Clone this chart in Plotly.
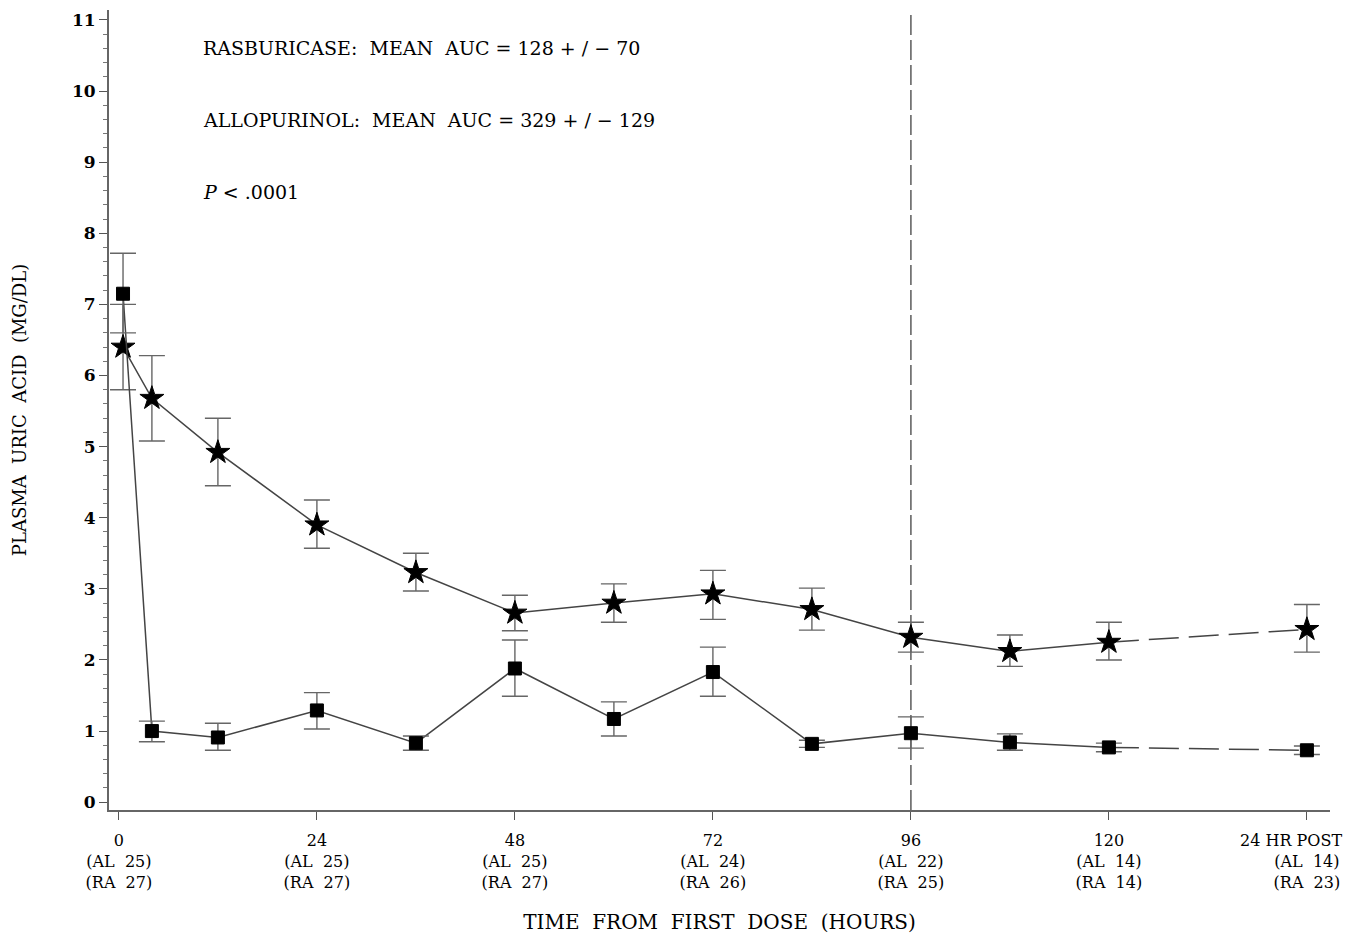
import plotly.graph_objects as go

# ---- data ----
hours = [0.5, 4, 12, 24, 36, 48, 60, 72, 84, 96, 108, 120, 144]
allopurinol_mean = [6.40, 5.68, 4.92, 3.90, 3.23, 2.66, 2.80, 2.93, 2.71, 2.32, 2.12, 2.25, 2.43]
allopurinol_upper = [7.00, 6.28, 5.40, 4.25, 3.50, 2.91, 3.07, 3.26, 3.01, 2.53, 2.35, 2.53, 2.78]
allopurinol_lower = [5.80, 5.08, 4.45, 3.57, 2.97, 2.41, 2.53, 2.57, 2.42, 2.11, 1.91, 2.00, 2.11]
rasburicase_mean = [7.15, 1.00, 0.91, 1.29, 0.83, 1.88, 1.17, 1.83, 0.82, 0.97, 0.84, 0.77, 0.73]
rasburicase_upper = [7.72, 1.14, 1.11, 1.54, 0.93, 2.28, 1.41, 2.18, 0.87, 1.20, 0.96, 0.83, 0.79]
rasburicase_lower = [6.60, 0.85, 0.73, 1.03, 0.73, 1.49, 0.93, 1.49, 0.77, 0.76, 0.73, 0.71, 0.67]

tick_hours = [0, 24, 48, 72, 96, 120, 144]
tick_time = ["0", "24", "48", "72", "96", "120", "24 HR POST"]
tick_al = [25, 25, 25, 24, 22, 14, 14]
tick_ra = [27, 27, 27, 26, 25, 14, 23]
y_ticks = list(range(0, 12))

annotation_lines = [
    "RASBURICASE:  MEAN  AUC = 128 + / \u2212 70",
    "ALLOPURINOL:  MEAN  AUC = 329 + / \u2212 129",
    "<i>P</i> < .0001",
]
annotation_y = [10.6, 9.59, 8.58]
ref_line_hour = 96

FONT = "DejaVu Serif"
LINE_C = "#444444"
ERR_C = "#666666"

# the last tick's first line is too wide to be centred inside the page: it is
# drawn right-aligned as an annotation at the same tick position
ticktext = []
for i, (t, a, r) in enumerate(zip(tick_time, tick_al, tick_ra)):
    first = t if i < len(tick_time) - 1 else "\u00a0"
    ticktext.append(f"{first}<br>(AL  {a})<br>(RA  {r})")

fig = go.Figure()


def add_series(mean, upper, lower, symbol, size):
    n_solid = hours.index(120) + 1
    err_plus = [u - m for u, m in zip(upper, mean)]
    err_minus = [m - l for m, l in zip(mean, lower)]
    fig.add_trace(go.Scatter(
        x=hours[:n_solid], y=mean[:n_solid], mode="lines",
        line=dict(color=LINE_C, width=1.5), showlegend=False, hoverinfo="skip"))
    fig.add_trace(go.Scatter(
        x=hours[n_solid - 1:], y=mean[n_solid - 1:], mode="lines",
        line=dict(color=LINE_C, width=1.5, dash="30px,10px"), showlegend=False, hoverinfo="skip"))
    fig.add_trace(go.Scatter(
        x=hours, y=mean, mode="markers",
        marker=dict(symbol=symbol, size=size, color="black", line=dict(color="black", width=1)),
        error_y=dict(type="data", symmetric=False, array=err_plus, arrayminus=err_minus,
                     color=ERR_C, thickness=1.4, width=13),
        showlegend=False))


add_series(allopurinol_mean, allopurinol_upper, allopurinol_lower, "star", 18)
add_series(rasburicase_mean, rasburicase_upper, rasburicase_lower, "square", 13)

fig.add_shape(type="line", xref="x", yref="paper", x0=ref_line_hour, x1=ref_line_hour,
              y0=0, y1=1, line=dict(color="#666666", width=1.6, dash="20px,5px"), layer="below")

for txt, yv in zip(annotation_lines, annotation_y):
    fig.add_annotation(x=10.0, y=yv, xref="x", yref="y", text=txt, showarrow=False,
                       xanchor="left", yanchor="middle",
                       font=dict(family=FONT, size=19, color="black"))

fig.add_annotation(x=tick_hours[-1], y=0, xref="x", yref="paper", text=tick_time[-1],
                   showarrow=False, xanchor="right", yanchor="top", xshift=36, yshift=-20,
                   borderpad=0,
                   font=dict(family=FONT, size=16, color="black"))

# page body has an 8px default margin, so the figure is 8px smaller
fig.update_layout(
    width=1346, height=926,
    margin=dict(l=101, r=24, t=2, b=124),
    paper_bgcolor="white", plot_bgcolor="white",
    font=dict(family=FONT, color="black"),
)

fig.update_xaxes(
    automargin=False, ticklabeloverflow="allow", ticklabelstandoff=7,
    range=[-1.2, 146.8], tickmode="array", tickvals=tick_hours, ticktext=ticktext,
    ticks="outside", ticklen=8, tickwidth=1.4, tickcolor="#555",
    showline=True, linecolor="#666", linewidth=1.8, showgrid=False, zeroline=False,
    tickfont=dict(family=FONT, size=16, color="black"),
    title=dict(text="TIME  FROM  FIRST  DOSE  (HOURS)", font=dict(family=FONT, size=20, color="black"),
               standoff=30),
)
fig.update_yaxes(
    automargin=False, ticklabeloverflow="allow",
    range=[-0.11, 11.14], tickmode="array", tickvals=y_ticks,
    ticks="outside", ticklen=8, tickwidth=1.4, tickcolor="#555",
    minor=dict(dtick=0.2, ticks="outside", ticklen=4, tickcolor="#777", tickwidth=1.2),
    showline=True, linecolor="#666", linewidth=1.8, showgrid=False, zeroline=False,
    tickfont=dict(family=FONT, size=17, color="black", weight="bold"),
    title=dict(text="PLASMA  URIC  ACID  (MG/DL)", font=dict(family=FONT, size=18, color="black"),
               standoff=41),
)

fig.write_html("out.html")
